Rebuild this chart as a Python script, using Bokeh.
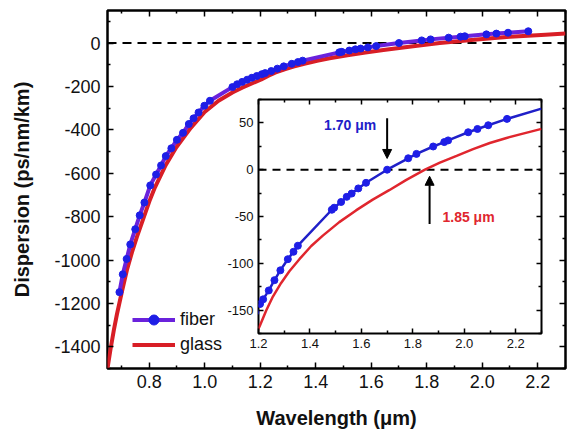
from bokeh.plotting import figure
from bokeh.models import (FixedTicker, LinearAxis, Range1d, Legend, LegendItem, Span,
                          Arrow, NormalHead, Label, GridBox, CustomJSTickFormatter)
from bokeh.embed import file_html
from bokeh.resources import INLINE

# ---------------- data ----------------
# measured fiber dispersion (wavelength in um, D in ps/nm/km)
fiber_wl = [0.693, 0.705, 0.719, 0.732, 0.750, 0.766, 0.783, 0.804, 0.825, 0.843,
            0.860, 0.880, 0.900, 0.922, 0.943, 0.960, 0.978, 0.999, 1.019,
            1.100, 1.117, 1.135, 1.153, 1.170, 1.188,
            1.206, 1.218, 1.240, 1.262, 1.285, 1.314, 1.336, 1.353,
            1.485, 1.494, 1.521, 1.543, 1.562, 1.588, 1.618, 1.700,
            1.782, 1.814, 1.879, 1.922, 1.937, 2.015, 2.051, 2.093, 2.166]
fiber_D = [-1148, -1066, -995, -928, -858, -794, -735, -656, -606, -564,
           -521, -485, -446, -414, -373, -347, -320, -289, -266,
           -203, -190, -179, -169, -160, -152,
           -143.5, -138.5, -129, -118, -107.5, -95.6, -87.7, -81.2,
           -42.8, -40.6, -34.5, -29, -25.5, -20, -14, 0,
           12.2, 16.9, 24.8, 29.5, 31.3, 40, 43.5, 47.5, 54.3]

# fitted fiber curve end values seen in the inset
fiber_fit_end_wl = [1.200, 2.300]
fiber_fit_end_D = [-146, 65.3]

# bulk glass dispersion curve
glass_wl = [0.650, 0.661, 0.673, 0.684, 0.702, 0.720, 0.738, 0.756, 0.780, 0.803,
            0.821, 0.860, 0.898, 0.950, 1.000, 1.050, 1.100, 1.135, 1.204, 1.230,
            1.256, 1.288, 1.320, 1.359, 1.405, 1.450, 1.514, 1.579, 1.644, 1.708,
            1.773, 1.847, 1.905, 1.970, 2.034, 2.099, 2.164, 2.228, 2.300]
glass_D = [-1500, -1410, -1322, -1250, -1145, -1046, -965, -893, -806, -722,
           -665, -562, -480, -391, -318, -266, -228, -206, -167.5, -150.5,
           -135.5, -121, -108.5, -95.6, -81.5, -70.4, -56, -43.5, -32, -21.9,
           -11.1, 0, 7.6, 14.8, 22, 28.5, 33.9, 38.5, 43.6]

# zero-dispersion wavelengths
zdw_fiber = 1.70
zdw_glass = 1.85

# tick labels
main_x_ticks = [0.8, 1.0, 1.2, 1.4, 1.6, 1.8, 2.0, 2.2]
main_x_labels = ["0.8", "1.0", "1.2", "1.4", "1.6", "1.8", "2.0", "2.2"]
main_y_ticks = [-1400, -1200, -1000, -800, -600, -400, -200, 0]
main_y_labels = ["-1400", "-1200", "-1000", "-800", "-600", "-400", "-200", "0"]
inset_x_ticks = [1.2, 1.4, 1.6, 1.8, 2.0, 2.2]
inset_x_labels = ["1.2", "1.4", "1.6", "1.8", "2.0", "2.2"]
inset_y_ticks = [-150, -100, -50, 0, 50]
inset_y_labels = ["-150", "-100", "-50", "0", "50"]

main_x_minor = [0.7, 0.9, 1.1, 1.3, 1.5, 1.7, 1.9, 2.1, 2.3]
main_y_minor = [-1500, -1300, -1100, -900, -700, -500, -300, -100, 100]
inset_x_minor = [1.3, 1.5, 1.7, 1.9, 2.1, 2.3]
inset_y_minor = [-175, -125, -75, -25, 25, 75]

# ---------------- styling ----------------
FONT = "Liberation Sans"
BLUE_DOT = "#1e1ee6"
PURPLE = "#6a22dc"
RED = "#d81e26"
INSET_BLUE = "#2020c8"
INSET_RED = "#e0262e"


def style_frame(fig, xt, xmin, xlab, yt, ymin, ylab, fsize, tin, tmin, lw):
    fig.xgrid.visible = False
    fig.ygrid.visible = False
    fig.outline_line_color = "black"
    fig.outline_line_width = lw
    xa = fig.below[0]
    ya = fig.left[0]
    xa.ticker = FixedTicker(ticks=xt, minor_ticks=xmin)
    ya.ticker = FixedTicker(ticks=yt, minor_ticks=ymin)
    xa.major_label_overrides = {t: l for t, l in zip(xt, xlab)}
    ya.major_label_overrides = {t: l for t, l in zip(yt, ylab)}
    for ax in (xa, ya):
        ax.axis_line_color = None
        ax.major_tick_in = tin
        ax.major_tick_out = 0
        ax.minor_tick_in = tmin
        ax.minor_tick_out = 0
        ax.major_tick_line_width = 1.5
        ax.minor_tick_line_width = 1.5
        ax.major_tick_line_color = "black"
        ax.minor_tick_line_color = "black"
        ax.major_label_text_font = FONT
        ax.major_label_text_font_size = fsize
        ax.major_label_text_color = "#111111"
    # mirrored ticks on top and right
    for loc, t, mn in (("above", xt, xmin), ("right", yt, ymin)):
        ax = LinearAxis(ticker=FixedTicker(ticks=t, minor_ticks=mn),
                        formatter=CustomJSTickFormatter(code="return ''"),
                        major_label_text_font_size="0px", major_label_standoff=0,
                        axis_line_color=None, major_tick_in=tin, major_tick_out=0,
                        minor_tick_in=tmin, minor_tick_out=0,
                        major_tick_line_width=1.5, minor_tick_line_width=1.5)
        fig.add_layout(ax, loc)
    return xa, ya


# ---------------- main figure ----------------
p = figure(width=559, height=423, x_range=Range1d(0.65, 2.3), y_range=Range1d(-1500, 150),
           output_backend="svg", toolbar_location=None,
           min_border_left=96, min_border_right=2, min_border_top=2, min_border_bottom=63)
p.background_fill_color = "white"
p.border_fill_color = "white"
pxa, pya = style_frame(p, main_x_ticks, main_x_minor, main_x_labels, main_y_ticks,
                       main_y_minor, main_y_labels, "18px", 6, 3, 2.5)
pxa.major_label_standoff = 6
pya.major_label_standoff = 7
pxa.axis_label = "Wavelength (μm)"
pya.axis_label = "Dispersion (ps/nm/km)"
for ax in (pxa, pya):
    ax.axis_label_text_font = FONT
    ax.axis_label_text_font_style = "bold"
    ax.axis_label_text_font_size = "20px"
    ax.axis_label_text_color = "#111111"
pxa.axis_label_standoff = 16
pya.axis_label_standoff = 18

p.add_layout(Span(location=0, dimension="width", line_color="black", line_width=2,
                  line_dash="9 6", level="underlay"))

g_main = p.line(glass_wl, glass_D, line_color=RED, line_width=4)
f_line = p.line(fiber_wl, fiber_D, line_color=PURPLE, line_width=4)
f_pts = p.scatter(fiber_wl, fiber_D, size=7, fill_color=BLUE_DOT, line_color=BLUE_DOT)

legend = Legend(items=[LegendItem(label="fiber", renderers=[f_line, f_pts]),
                       LegendItem(label="glass", renderers=[g_main])],
                location=(25, 11), border_line_color=None, background_fill_alpha=0,
                padding=0, margin=0, spacing=0, glyph_width=43, glyph_height=25,
                label_standoff=5, label_text_font=FONT, label_text_font_size="18px",
                label_text_color="#111111", label_height=25)
p.add_layout(legend)

# ---------------- inset ----------------
ins = figure(width=322, height=259, x_range=Range1d(1.2, 2.3), y_range=Range1d(-175, 75),
             output_backend="svg", toolbar_location=None,
             min_border_left=36, min_border_right=3, min_border_top=3, min_border_bottom=22)
ins.background_fill_color = "white"
ins.border_fill_alpha = 0
ixa, iya = style_frame(ins, inset_x_ticks, inset_x_minor, inset_x_labels, inset_y_ticks,
                       inset_y_minor, inset_y_labels, "13px", 5, 3, 2)
ixa.major_label_standoff = 5
iya.major_label_standoff = 5

ins.add_layout(Span(location=0, dimension="width", line_color="black", line_width=2,
                    line_dash="8 6", level="underlay"))

fit_pairs = sorted([(w, d) for w, d in zip(fiber_wl, fiber_D) if w >= 1.2] +
                   list(zip(fiber_fit_end_wl, fiber_fit_end_D)))
ins.line(glass_wl, glass_D, line_color=INSET_RED, line_width=2.5)
ins.line([a for a, _ in fit_pairs], [b for _, b in fit_pairs], line_color=INSET_BLUE, line_width=2.5)
ins.scatter(fiber_wl, fiber_D, size=7, fill_color=BLUE_DOT, line_color=BLUE_DOT)

ins.add_layout(Arrow(end=NormalHead(size=9, fill_color="black", line_color="black"),
                     x_start=zdw_fiber, y_start=55, x_end=zdw_fiber, y_end=12,
                     line_color="black", line_width=2))
ins.add_layout(Arrow(end=NormalHead(size=9, fill_color="black", line_color="black"),
                     x_start=zdw_glass + 0.015, y_start=-58, x_end=zdw_glass + 0.015, y_end=-7,
                     line_color="black", line_width=2))
ins.add_layout(Label(x=1.455, y=47.5, text="%.2f μm" % zdw_fiber, text_font=FONT,
                     text_font_style="bold", text_font_size="14px", text_color=INSET_BLUE,
                     text_baseline="middle"))
ins.add_layout(Label(x=1.915, y=-50, text="%.2f μm" % zdw_glass, text_font=FONT,
                     text_font_style="bold", text_font_size="14px", text_color=INSET_RED,
                     text_baseline="middle"))

# leading 8px tracks reproduce the page margin
layout = GridBox(children=[(p, 1, 1, 3, 3), (ins, 2, 2, 1, 1)],
                 rows=["8px", "88px", "259px", "76px"],
                 cols=["8px", "214px", "322px", "23px"], spacing=0)

open("out.html", "w").write(file_html(layout, INLINE))
